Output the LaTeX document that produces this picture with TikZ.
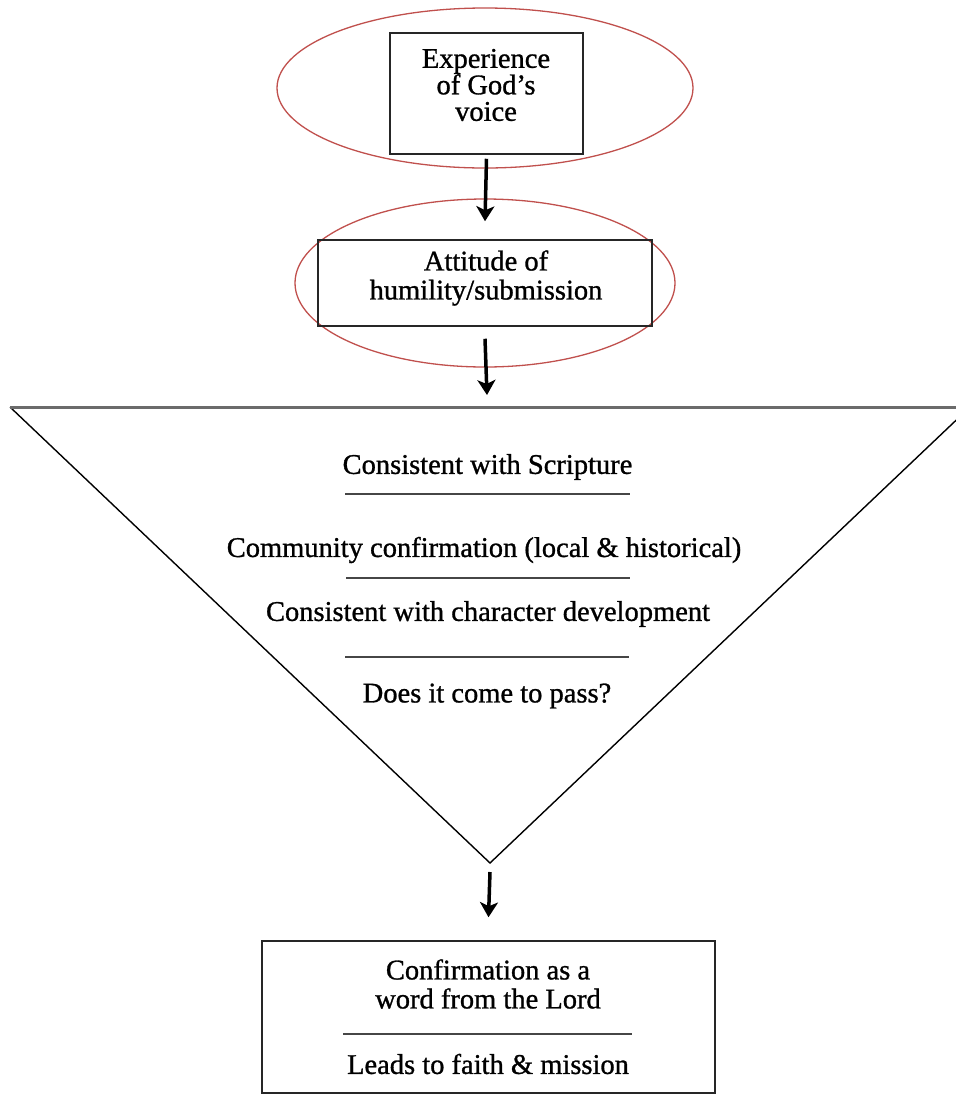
\documentclass[tikz,border=0pt]{standalone}
\usepackage{fontspec}
\setmainfont{Liberation Serif}[FakeBold=1]
\usetikzlibrary{shapes.geometric,arrows.meta}

\definecolor{ovalred}{RGB}{192,80,77}
\definecolor{rulegray}{RGB}{70,70,70}

\tikzset{
  oval/.style={draw=ovalred, line width=1.3pt, ellipse, inner sep=0pt},
  textbox/.style={draw=black!85, line width=1.5pt, rectangle, inner sep=0pt},
  rowtext/.style={align=center, inner sep=0pt},
  sepline/.style={draw=rulegray, line width=1.8pt},
  flowarrow/.style={draw=black, line width=3.5pt, -{Stealth[length=15pt,width=18pt,inset=4pt]}}
}

\newcommand{\chartfont}{\fontsize{28.5}{29}\selectfont}

\begin{document}
\begin{tikzpicture}[x=1pt, y=-1pt, font=\chartfont]
\useasboundingbox (0,0) rectangle (956,1096);

% the two ovals and their boxes
\node[oval, minimum width=416pt, minimum height=160pt] (ell1) at (485,88) {};
\node[textbox, minimum width=193pt, minimum height=121pt] (box1) at (486.5,93.5) {};
\node[rowtext, font=\fontsize{28.5}{26.5}\selectfont] (voice) at (486,85) {Experience\\of God's\\voice};

\node[oval, minimum width=380pt, minimum height=168pt] (ell2) at (485,283) {};
\node[textbox, minimum width=334pt, minimum height=86pt] (box2) at (485,283) {};
\node[rowtext] (attitude) at (486,278) {Attitude of\\humility/submission};

% the funnel
\coordinate (tl) at (10,407);
\coordinate (tr) at (970,407);
\coordinate (tip) at (490,863);
\coordinate (tritop) at (487,407);
\draw[black, line width=1.4pt] (tl) -- (tip) -- (tr);
\draw[rulegray!80, line width=3pt] (tl) -- (tr);

\node[rowtext] (scripture) at (487.5,467) {Consistent with Scripture};
\draw[sepline] (345,494) -- (630,494);
\node[rowtext] (community) at (484,550) {Community confirmation (local \& historical)};
\draw[sepline] (346,578) -- (630,578);
\node[rowtext] (character) at (488,614) {Consistent with character development};
\draw[sepline] (345,657) -- (629,657);
\node[rowtext] (pass) at (487,696) {Does it come to pass?};

% the outcome box
\node[textbox, minimum width=453pt, minimum height=152pt] (box3) at (488.5,1017) {};
\node[rowtext] (word) at (488,984) {Confirmation as a\\word from the Lord};
\draw[sepline] (343,1034) -- (632,1034);
\node[rowtext] (mission) at (488,1064) {Leads to faith \& mission};

% arrows
\draw[flowarrow] ([yshift=-4pt]box1.south) -- ([yshift=18pt]box2.north);
\draw[flowarrow] ([yshift=-12pt]box2.south) -- ([yshift=12pt]tritop);
\draw[flowarrow] ([yshift=-9pt]tip) -- ([yshift=23pt]box3.north);
\end{tikzpicture}
\end{document}
